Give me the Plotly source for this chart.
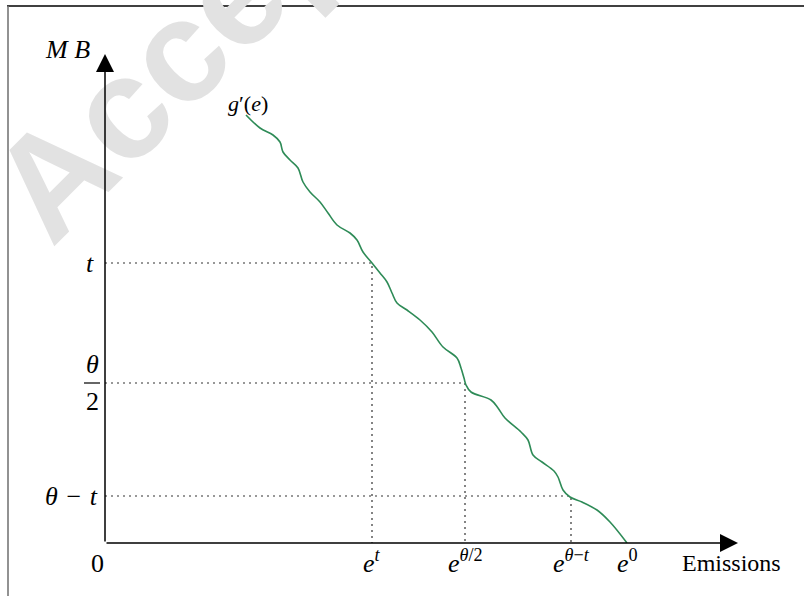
import plotly.graph_objects as go

# ---- data (pixel-scale units) ----
curve_x = [141, 155, 168, 175, 178, 185, 193, 198, 205, 215, 223, 232, 245, 252, 258,
           267, 275, 282, 287, 292, 302, 315, 327, 338, 352, 356, 359, 361, 366, 386,
           393, 400, 416, 423, 428, 437, 449, 453, 458, 465, 477, 492, 505, 522]
curve_y = [428, 415, 408, 401, 391, 383, 375, 361, 351, 341, 330, 318, 310, 303, 291,
           280, 270, 261, 250, 240, 233, 223, 211, 196, 185, 175, 165, 158, 151, 143,
           135, 125, 111, 103, 88, 81, 72, 66, 53, 46, 41, 33, 21, 0]

level_names = ["t", "θ/2", "θ−t"]
level_y = [280, 160, 47]          # MB levels
level_e = [267, 360, 466]         # emissions where g'(e) meets each level
e0 = 522                          # unregulated emissions
x_tip, y_tip = 633, 489           # axis arrow tips

x_labels = ["<i>e</i><sup><i>t</i></sup>", "<i>e</i><sup><i>θ</i>/2</sup>",
            "<i>e</i><sup><i>θ</i>−<i>t</i></sup>", "<i>e</i><sup>0</sup>"]
x_label_pos = level_e + [e0]

L, R, T, B = 105, 59, 52, 53
W, H = 804, 596
PW, PH = W - L - R, H - T - B

def px(x):
    return (x - L) / PW

def py(y):
    return (H - B - y) / PH

SERIF = "Liberation Serif, Times New Roman, serif"

fig = go.Figure()

# dotted guides
for ly, lx in zip(level_y, level_e):
    fig.add_trace(go.Scatter(x=[0, lx, lx], y=[ly, ly, 0], mode="lines",
                             line=dict(color="#333333", width=1.2, dash="2px,4px"),
                             hoverinfo="skip", showlegend=False))

# g'(e)
fig.add_trace(go.Scatter(x=curve_x, y=curve_y, mode="lines",
                         line=dict(color="#2e8b57", width=1.6, shape="spline", smoothing=1.0),
                         hoverinfo="skip", showlegend=False))

ann = []
C = dict(xanchor="center", yanchor="middle", showarrow=False)
# watermark
ann.append(dict(x=px(247), y=py(-17), xref="paper", yref="paper", text="<b>Accepted</b>",
                textangle=-45, font=dict(family="Liberation Sans, Arial", size=145,
                                         color="#e2e2e2"), **C))
# axes arrows
ann.append(dict(x=x_tip, y=0, ax=0, ay=0, xref="x", yref="y", axref="x", ayref="y",
                text="", showarrow=True, arrowhead=2, arrowsize=2.4, arrowwidth=1.5,
                arrowcolor="black", standoff=0, startstandoff=0))
ann.append(dict(x=0, y=y_tip, ax=0, ay=0, xref="x", yref="y", axref="x", ayref="y",
                text="", showarrow=True, arrowhead=2, arrowsize=2.4, arrowwidth=1.5,
                arrowcolor="black", standoff=0, startstandoff=0))

f = dict(family=SERIF, size=24, color="black")
fe = dict(family=SERIF, size=26, color="black")
# y labels
ann.append(dict(x=px(90), y=level_y[0], xref="paper", yref="y", text="<i>t</i>", font=fe, **C))
ann.append(dict(x=px(92), y=py(364), xref="paper", yref="paper", text="<i>θ</i>", font=fe, **C))
ann.append(dict(x=px(92), y=py(401), xref="paper", yref="paper", text="2", font=fe, **C))
ann.append(dict(x=px(71), y=level_y[2], xref="paper", yref="y",
                text="<i>θ</i>\u2004−\u2004<i>t</i>", font=fe, **C))
ann.append(dict(x=px(97), y=py(563), xref="paper", yref="paper", text="0", font=fe, **C))
ann.append(dict(x=px(67), y=py(50), xref="paper", yref="paper", text="<i>M B</i>", font=fe, **C))
ann.append(dict(x=px(248), y=py(103), xref="paper", yref="paper", text="<i>g</i>′(<i>e</i>)",
                font=dict(family=SERIF, size=22, color="black"), **C))
for xl, xp in zip(x_labels, x_label_pos):
    ann.append(dict(x=xp, y=py(561), xref="x", yref="paper", text=xl, font=fe, **C))
ann.append(dict(x=px(731), y=py(563), xref="paper", yref="paper", text="Emissions",
                font=f, **C))

shapes = [
    # fraction bar
    dict(type="line", xref="paper", yref="paper", x0=px(84), x1=px(100), y0=py(383), y1=py(383),
         line=dict(color="black", width=1.2)),
    # frame
    dict(type="line", xref="paper", yref="paper", x0=px(7), x1=px(804), y0=py(6), y1=py(6),
         line=dict(color="black", width=1.3)),
    dict(type="line", xref="paper", yref="paper", x0=px(8), x1=px(8), y0=py(6), y1=py(596),
         line=dict(color="#777777", width=1.6)),
]

fig.update_layout(
    width=W, height=H, margin=dict(l=L, r=R, t=T, b=B),
    paper_bgcolor="white", plot_bgcolor="white",
    xaxis=dict(range=[0, PW], visible=False, fixedrange=True),
    yaxis=dict(range=[0, PH], visible=False, fixedrange=True),
    annotations=ann, shapes=shapes, showlegend=False,
)

fig.write_html("out.html", config={"displayModeBar": False},
               post_script="document.body.style.margin='0';")
